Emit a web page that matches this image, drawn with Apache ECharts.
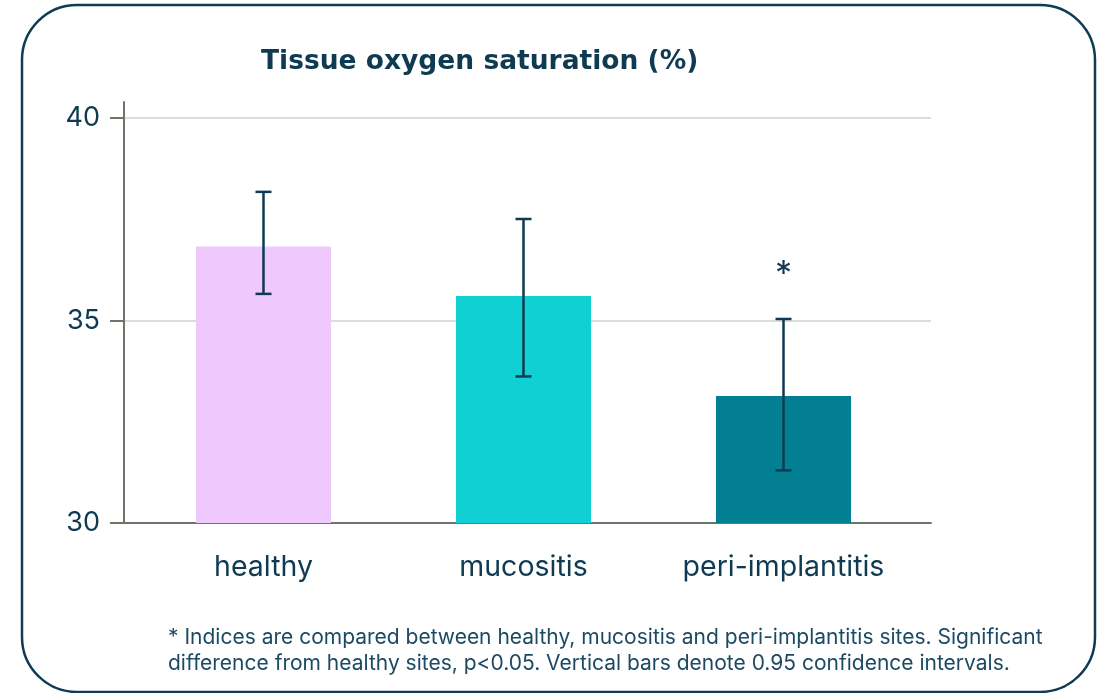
<!DOCTYPE html>
<html>
<head>
<meta charset="utf-8">
<script src="https://cdn.jsdelivr.net/npm/echarts@6/dist/echarts.min.js"></script>
<style>
  html, body { margin: 0; padding: 0; background: #fff; }
  #chart { width: 1107px; height: 693px; }
</style>
</head>
<body>
<div id="chart"></div>
<script>
// data
var categories = ['healthy', 'mucositis', 'peri-implantitis'];
var means = [36.83, 35.61, 33.14];
var ciLow = [35.66, 33.62, 31.30];
var ciHigh = [38.18, 37.51, 35.04];
var sigMarks = ['', '', '*'];
var yTicks = [30, 35, 40];
var barColors = ['#efc9fb', '#11d0d3', '#037f94'];

var ink = '#0e3a52';
var font = 'Inter, "Noto Sans", sans-serif';

var barData = [];
var errData = [];
for (var i = 0; i < categories.length; i++) {
  barData.push({ value: [i, means[i]], itemStyle: { color: barColors[i] } });
  errData.push([i, ciLow[i], ciHigh[i]]);
}

var chart = echarts.init(document.getElementById('chart'));

chart.setOption({
  animation: false,
  title: [{
    text: 'Tissue oxygen saturation (%)',
    left: 256,
    top: 44,
    textStyle: { fontFamily: '"DejaVu Sans", sans-serif', fontSize: 26.5, fontWeight: 'bold', color: ink }
  }, {
    text: '* Indices are compared between healthy, mucositis and peri-implantitis sites. Significant\ndifference from healthy sites, p<0.05. Vertical bars denote 0.95 confidence intervals.',
    left: 163,
    top: 620,
    textStyle: { fontFamily: font, fontSize: 21, fontWeight: 'normal', color: '#1d4a63', lineHeight: 26 }
  }],
  graphic: [{
    type: 'rect',
    shape: { x: 22, y: 5, width: 1073, height: 687, r: 55 },
    style: { fill: 'none', stroke: '#0f3c55', lineWidth: 2.5 },
    silent: true
  }],
  grid: { left: 124, right: 176, top: 102, bottom: 170 },
  xAxis: {
    type: 'value',
    min: -0.5365,
    max: 2.5673,
    axisLine: { show: true, onZero: false, lineStyle: { color: '#6d7469', width: 2 } },
    axisTick: { show: false },
    splitLine: { show: false },
    axisLabel: {
      customValues: [0, 1, 2],
      margin: 30,
      fontFamily: font,
      fontSize: 28.5,
      color: ink,
      formatter: function (v) { return categories[Math.round(v)]; }
    }
  },
  yAxis: {
    type: 'value',
    min: 30,
    max: 40.4,
    interval: 5,
    axisLine: { show: true, onZero: false, lineStyle: { color: '#6d7469', width: 2 } },
    axisTick: { show: true, length: 14, customValues: yTicks, lineStyle: { color: '#6d7469', width: 2 } },
    axisLabel: { customValues: yTicks, margin: 24, fontFamily: font, fontSize: 27, color: ink },
    splitLine: { show: true, showMinLine: false, lineStyle: { color: '#dcdcdc', width: 2 } }
  },
  series: [{
    type: 'bar',
    barWidth: 135,
    data: barData,
    z: 2
  }, {
    type: 'custom',
    z: 3,
    encode: { x: 0, y: [1, 2] },
    data: errData,
    renderItem: function (params, api) {
      var idx = api.value(0);
      var lo = api.coord([idx, api.value(1)]);
      var hi = api.coord([idx, api.value(2)]);
      var cap = 8;
      var st = { stroke: ink, lineWidth: 2.5 };
      var children = [
        { type: 'line', shape: { x1: lo[0], y1: lo[1], x2: hi[0], y2: hi[1] }, style: st },
        { type: 'line', shape: { x1: hi[0] - cap, y1: hi[1], x2: hi[0] + cap, y2: hi[1] }, style: st },
        { type: 'line', shape: { x1: lo[0] - cap, y1: lo[1], x2: lo[0] + cap, y2: lo[1] }, style: st }
      ];
      var mark = sigMarks[params.dataIndex];
      if (mark) {
        children.push({
          type: 'text',
          style: {
            text: mark, x: hi[0], y: hi[1] - 44,
            align: 'center', verticalAlign: 'middle',
            fontFamily: font, fontSize: 34, fill: ink
          }
        });
      }
      return { type: 'group', children: children };
    }
  }]
});
</script>
</body>
</html>
